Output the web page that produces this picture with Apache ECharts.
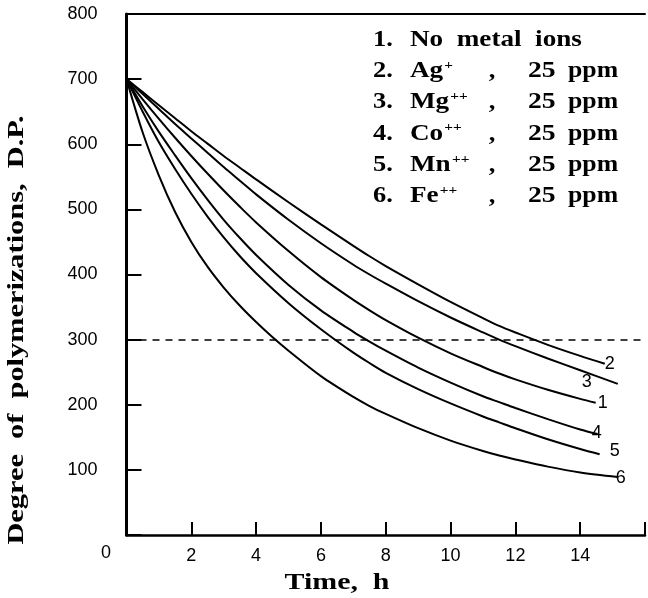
<!DOCTYPE html>
<html>
<head>
<meta charset="utf-8">
<script src="https://cdn.jsdelivr.net/npm/echarts@6/dist/echarts.min.js"></script>
<style>
  html, body { margin: 0; padding: 0; background: #fff; }
  #main { width: 648px; height: 598px; }
</style>
</head>
<body>
<div id="main"></div>
<script>
// time (h) and degree of polymerization, one pair of arrays per curve
var t1 = [0, 0.5, 1, 1.5, 2, 2.5, 3, 3.5, 4, 5, 6, 7, 7.5, 8, 9, 10, 11, 11.5, 12, 13, 14, 14.48];
var dp1 = [700, 669, 639, 610, 582, 555, 529, 504, 480, 436, 396, 361, 345, 330, 303, 279, 258, 248, 239, 223, 209, 203];

var t2 = [0, 0.5, 1, 1.5, 2, 2.5, 3, 3.5, 4, 5, 6, 7, 7.5, 8, 9, 10, 11, 11.5, 12, 13, 14, 14.76];
var dp2 = [700, 680, 660, 640, 620, 601, 582, 564, 546, 511, 477, 444, 428, 413, 385, 358, 333, 321, 311, 292, 275, 263];

var t3 = [0, 0.5, 1, 1.5, 2, 2.5, 3, 3.5, 4, 5, 6, 7, 7.5, 8, 9, 10, 11, 11.5, 12, 13, 14, 15.16];
var dp3 = [700, 677, 654, 631, 609, 587, 565, 544, 523, 484, 448, 415, 400, 386, 359, 334, 311, 300, 290, 271, 253, 232];

var t4 = [0, 0.5, 1, 1.5, 2, 2.5, 3, 3.5, 4, 5, 6, 7, 7.5, 8, 9, 10, 11, 11.5, 12, 13, 14, 14.54];
var dp4 = [700, 658, 619, 583, 548, 515, 484, 456, 430, 384, 345, 312, 297, 283, 257, 234, 213, 204, 195, 178, 162, 155];

var t5 = [0, 0.5, 1, 1.5, 2, 2.5, 3, 3.5, 4, 5, 6, 7, 7.5, 8, 9, 10, 11, 11.5, 12, 13, 14, 14.6];
var dp5 = [700, 650, 603, 562, 524, 489, 457, 428, 402, 356, 316, 280, 264, 249, 224, 202, 182, 173, 164, 147, 132, 124];

var t6 = [0, 0.5, 1, 1.5, 2, 2.5, 3, 3.5, 4, 4.5, 5, 6, 7, 7.5, 8, 9, 10, 11, 11.5, 12, 13, 14, 15.16];
var dp6 = [700, 618, 552, 496, 450, 412, 380, 352, 327, 304, 283, 244, 212, 198, 186, 164, 145, 129, 122, 116, 105, 96, 89];

var curveNames = ['1', '2', '3', '4', '5', '6'];
var refLevel = 300;

// legend text
var legendNums = ['1.', '2.', '3.', '4.', '5.', '6.'];
var legendIons = ['No  metal  ions', 'Ag', 'Mg', 'Co', 'Mn', 'Fe'];
var legendCharges = ['', '+', '++', '++', '++', '++'];
var legendDose = ['', '25', '25', '25', '25', '25'];
var legendUnit = 'ppm';

var times = [t1, t2, t3, t4, t5, t6];
var values = [dp1, dp2, dp3, dp4, dp5, dp6];

// where each curve number sits relative to the end of its line
var labelOffsets = [[2, 0], [0, 0], [-36, -2], [-6, -1], [10, -3], [-2, 1]];

function pairs(xs, ys) {
	var out = [];
	for (var i = 0; i < xs.length; i++) {
		out.push([xs[i], ys[i]]);
	}
	return out;
}

var serif = "'Liberation Serif', 'DejaVu Serif', serif";
var sans = "'Liberation Sans', Arial, sans-serif";

var series = [];
for (var i = 0; i < times.length; i++) {
	var s = {
		name: curveNames[i],
		type: 'line',
		data: pairs(times[i], values[i]),
		smooth: 0.3,
		showSymbol: false,
		symbol: 'none',
		lineStyle: { color: '#000', width: 2 },
		endLabel: {
			show: true,
			formatter: curveNames[i],
			distance: 0,
			offset: labelOffsets[i],
			color: '#000',
			fontFamily: sans,
			fontSize: 18
		},
		z: 3
	};
	if (i == 0) {
		s.markLine = {
			silent: true,
			symbol: 'none',
			label: { show: false },
			lineStyle: { color: '#000', type: [7, 6], width: 1.5 },
			data: [{ yAxis: refLevel }]
		};
	}
	series.push(s);
}

// legend block, drawn as text
var graphics = [];
for (var i = 0; i < legendNums.length; i++) {
	var y = 40 + i * 31.2;
	var base = { fontFamily: serif, fontWeight: 'bold', fontSize: 23, fill: '#000', verticalAlign: 'middle' };
	graphics.push({ type: 'text', x: 373, y: y, scaleX: 1.15,
		style: Object.assign({ text: legendNums[i], align: 'left' }, base) });
	var ionText = '{ion|' + legendIons[i] + '}' + (legendCharges[i] ? '{sup|' + legendCharges[i] + '}' : '');
	graphics.push({ type: 'text', x: 410, y: y, scaleX: 1.18,
		style: Object.assign({ text: ionText, align: 'left',
			rich: {
				ion: { fontFamily: serif, fontWeight: 'bold', fontSize: 23, lineHeight: 24 },
				sup: { fontFamily: serif, fontWeight: 'bold', fontSize: 13, lineHeight: 24, verticalAlign: 'top', padding: [0, 0, 0, 1] }
			} }, base) });
	if (legendDose[i]) {
		graphics.push({ type: 'text', x: 492, y: y, scaleX: 1.15,
			style: Object.assign({ text: ',', align: 'center' }, base) });
		graphics.push({ type: 'text', x: 528, y: y, scaleX: 1.2,
			style: Object.assign({ text: legendDose[i], align: 'left' }, base) });
		graphics.push({ type: 'text', x: 568, y: y, scaleX: 1.12,
			style: Object.assign({ text: legendUnit, align: 'left' }, base) });
	}
}
// axis titles and the shared origin label
graphics.push({ type: 'text', x: 337, y: 583, scaleX: 1.3,
	style: { text: 'Time,  h', align: 'center', verticalAlign: 'middle', fontFamily: serif, fontWeight: 'bold', fontSize: 23, fill: '#000' } });
graphics.push({ type: 'text', x: 17, y: 330, rotation: Math.PI / 2, scaleX: 1.32,
	style: { text: 'Degree  of  polymerizations,  D.P.', align: 'center', verticalAlign: 'middle', fontFamily: serif, fontWeight: 'bold', fontSize: 23, fill: '#000' } });
graphics.push({ type: 'text', x: 106, y: 553,
	style: { text: '0', align: 'center', verticalAlign: 'middle', fontFamily: sans, fontSize: 18, fill: '#000' } });

var myChart = echarts.init(document.getElementById('main'));
var option = {
	animation: false,
	backgroundColor: '#fff',
	grid: { left: 126.5, right: 0, top: 14, bottom: 63, containLabel: false },
	xAxis: [{
		type: 'value',
		min: 0,
		max: 16,
		interval: 2,
		axisLine: { show: true, lineStyle: { color: '#000', width: 2.5 } },
		axisTick: { show: true, inside: true, length: 13, lineStyle: { color: '#000', width: 2 } },
		axisLabel: {
			color: '#000', fontFamily: sans, fontSize: 18, margin: 12,
			formatter: function (v) { return (v == 0 || v == 16) ? '' : v; }
		},
		splitLine: { show: false }
	}, {
		type: 'value',
		position: 'top',
		min: 0,
		max: 16,
		axisLine: { show: true, onZero: false, lineStyle: { color: '#000', width: 2 } },
		axisTick: { show: false },
		axisLabel: { show: false },
		splitLine: { show: false }
	}],
	yAxis: {
		type: 'value',
		min: 0,
		max: 800,
		interval: 100,
		axisLine: { show: true, lineStyle: { color: '#000', width: 3 } },
		axisTick: { show: true, inside: true, length: 15, lineStyle: { color: '#000', width: 2 } },
		axisLabel: {
			color: '#000', fontFamily: sans, fontSize: 18, margin: 29,
			formatter: function (v) { return v == 0 ? '' : v; }
		},
		splitLine: { show: false }
	},
	graphic: graphics,
	series: series
};
myChart.setOption(option);
</script>
</body>
</html>
